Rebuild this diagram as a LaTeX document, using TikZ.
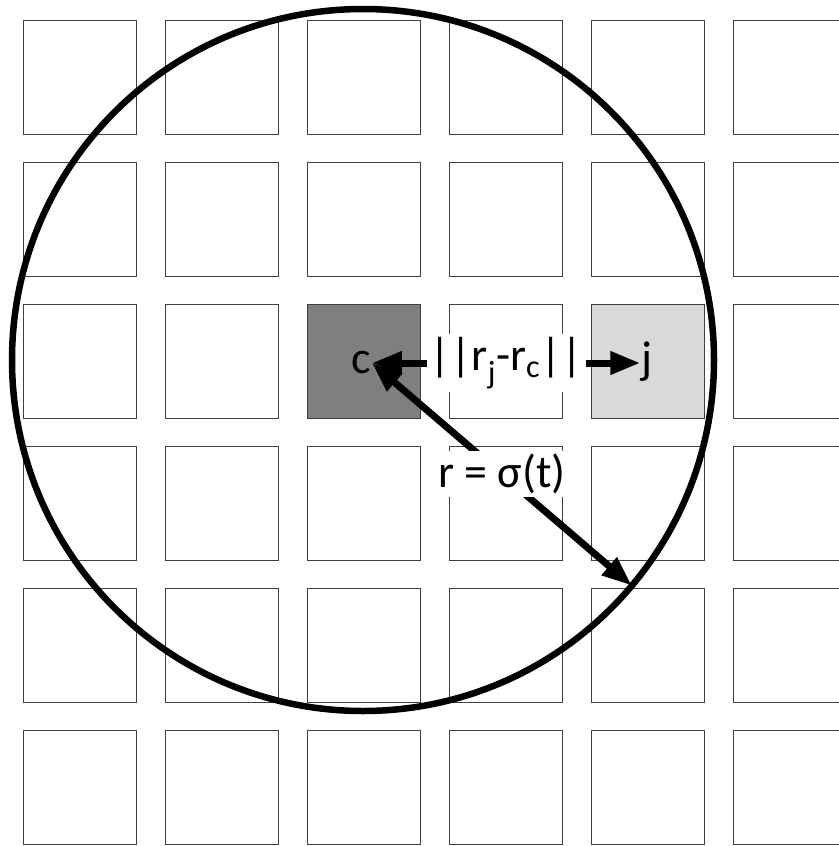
\documentclass[tikz,border=0pt]{standalone}
\usepackage{fontspec}
\setmainfont{Carlito}
\usetikzlibrary{arrows.meta,calc}
\definecolor{cgray}{HTML}{7F7F7F}
\definecolor{jgray}{HTML}{D9D9D9}
\definecolor{edge}{HTML}{404040}
\begin{document}
\begin{tikzpicture}[x=1pt,y=-1pt,
  cell/.style={draw=edge, line width=1.3pt, minimum size=113.5pt, inner sep=0pt, anchor=north west},
  ring/.style={draw, circle, line width=6.5pt, minimum size=702pt, inner sep=0pt, outer sep=0pt},
  arr/.style={line width=7pt, {Triangle[length=30pt,width=22pt]}-{Triangle[length=30pt,width=22pt]}},
  bigfont/.style={font=\fontsize{46}{54}\selectfont},
  lbl/.style={bigfont, fill=white, inner sep=3pt},
  pt/.style={bigfont, inner sep=1pt, text height=21pt, text depth=0pt}]
\useasboundingbox (0,0) rectangle (838,846);
\foreach \i in {0,...,5} \foreach \j in {0,...,5} {
  \def\f{white}
  \ifnum\i\j=22 \def\f{cgray}\fi
  \ifnum\i\j=42 \def\f{jgray}\fi
  \node[cell, fill=\f] (s\i\j) at (22.5+142*\i, 20+142*\j) {};
}
\node[ring] (O) at (363,360) {};
\node[pt] (c) at (361,363) {c};
\node[pt] (j) at (647,363) {j};
\draw[arr] (c.east) -- node[lbl] (d) {||r\textsubscript{j}-r\textsubscript{c}||} (j.west);
\draw[arr] (c.east) -- node[lbl] (r) {r = σ(t)} (O.-40.4);
\end{tikzpicture}
\end{document}
